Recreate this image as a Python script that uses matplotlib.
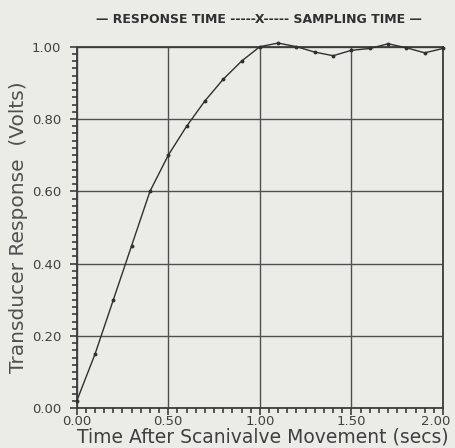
import numpy as np
import matplotlib as mpl
mpl.use('Agg')
import matplotlib.pyplot as plt
import matplotlib.transforms as mtransforms
from matplotlib.ticker import MultipleLocator

# ==== Data ====
time_s = [0.0, 0.1, 0.2, 0.3, 0.4, 0.5, 0.6, 0.7, 0.8, 0.9, 1.0,
          1.1, 1.2, 1.3, 1.4, 1.5, 1.6, 1.7, 1.8, 1.9, 2.0]
response_v = [0.02, 0.15, 0.30, 0.45, 0.60, 0.70, 0.78, 0.85, 0.91, 0.96, 1.00,
              1.01, 1.00, 0.985, 0.975, 0.99, 0.995, 1.008, 0.997, 0.983, 0.995]
xticks = [0.0, 0.5, 1.0, 1.5, 2.0]
yticks = [0.0, 0.2, 0.4, 0.6, 0.8, 1.0]

# ==== Style ====
BG = '#ebebe8'
INK = '#3c3c3c'
mpl.rcParams.update({
    'font.family': 'DejaVu Sans',
    'axes.linewidth': 1.3,
    'axes.edgecolor': INK,
})

fig = plt.figure(figsize=(4.55, 4.48), dpi=100, facecolor=BG)
ax = fig.add_axes([0.1686, 0.0886, 0.8050, 0.8072])
ax.set_facecolor(BG)

ax.plot(time_s, response_v, color='#303030', linewidth=1.0,
        marker='o', markersize=2.8, markerfacecolor='#303030',
        markeredgewidth=0, clip_on=False, zorder=3)

ax.set_xlim(0, 2.0)
ax.set_ylim(0, 1.0)
ax.set_xticks(xticks)
ax.set_yticks(yticks)
ax.set_xticklabels([f'{v:.2f}' for v in xticks])
ax.set_yticklabels([f'{v:.2f}' for v in yticks])
ax.xaxis.set_minor_locator(MultipleLocator(0.05))
ax.yaxis.set_minor_locator(MultipleLocator(0.02))

ax.grid(True, which='major', color='#505050', linewidth=1.0)
ax.tick_params(which='major', direction='out', length=5, width=1.2,
               colors=INK, labelsize=9.5, labelcolor='#404040')
ax.tick_params(which='minor', direction='out', length=3.5, width=1.2,
               colors=INK)
ax.tick_params(axis='y', which='major', pad=6)
ax.tick_params(axis='x', which='major', pad=0)

# nudge the last x tick label so it stays inside the figure
last = ax.get_xticklabels()[-1]
last.set_transform(last.get_transform() +
                   mtransforms.ScaledTranslation(-5 / 72, 0, fig.dpi_scale_trans))

# x label sits just under the tick labels
fig.text(0.578, 0.003, 'Time After Scanivalve Movement (secs)',
         ha='center', va='bottom', fontsize=13.5, color='#404040')
ax.set_ylabel('Transducer Response  (Volts)', fontsize=14.5,
              color='#505050', labelpad=3)

fig.text(0.568, 0.957,
         '\u2014 RESPONSE TIME -----X----- SAMPLING TIME \u2014',
         ha='center', va='center', fontsize=9, fontweight='bold',
         color='#303030')

fig.savefig('out.png', dpi=100, facecolor=BG)
